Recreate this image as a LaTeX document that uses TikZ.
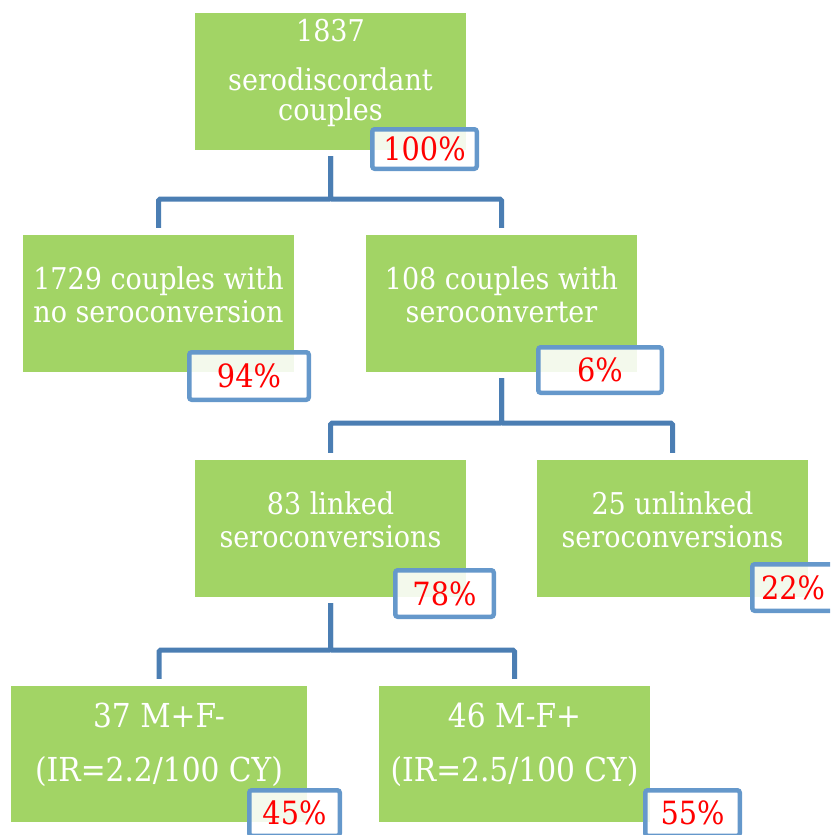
\documentclass[tikz,border=0pt]{standalone}
\usepackage{fontspec}
\setmainfont[FakeStretch=0.9]{DejaVu Serif}
\definecolor{boxgreen}{HTML}{A2D465}
\definecolor{linkblue}{HTML}{4B7EB3}
\definecolor{pctblue}{HTML}{6598CB}
\begin{document}
\begin{tikzpicture}[x=1pt,y=-1pt,
  gbox/.style={fill=boxgreen, draw=none, minimum width=271pt, minimum height=137pt, inner sep=0pt},
  txt/.style={text=white, font=\fontsize{30}{34}\selectfont, align=center, inner sep=0pt},
  bigtxt/.style={txt, font=\fontsize{33}{34}\selectfont},
  pct/.style={draw=pctblue, line width=4.5pt, fill=white, fill opacity=0.88, text opacity=1,
    rounded corners=2.5pt, text=red, font=\fontsize{32}{36}\selectfont, inner sep=0pt},
  conn/.style={draw=linkblue, line width=5pt, rounded corners=1.5pt, shorten <=6pt, shorten >=7pt}]
\useasboundingbox (0,0) rectangle (830,835);
\clip (0,0) rectangle (830,835);
% green boxes
\node[gbox] (top) at (330.5,81.5) {};
\node[gbox] (left) at (158.5,303.5) {};
\node[gbox] (right) at (501.5,303.5) {};
\node[gbox] (linked) at (330.5,528.5) {};
\node[gbox] (unlinked) at (672.5,528.5) {};
\node[gbox, minimum width=296pt, minimum height=136pt] (b37) at (159,754) {};
\node[gbox, minimum height=136pt] (b46) at (514.5,754) {};
% connectors
\draw[conn] (top.south) -- ++(0,49) -| (left.north);
\draw[conn] (top.south) -- ++(0,49) -| (right.north);
\draw[conn] (right.south) -- ++(0,51) -| (linked.north);
\draw[conn] (right.south) -- ++(0,51) -| (unlinked.north);
\draw[conn] (linked.south) -- ++(0,53) -| (b37.north);
\draw[conn] (linked.south) -- ++(0,53) -| (b46.north);
% texts
\node[txt] (ttop) at ([yshift=9pt]top.center) {1837\\[15pt]serodiscordant\\[-4pt]couples};
\node[txt] (tleft) at ([yshift=9pt]left.center) {1729 couples with\\[-1pt]no seroconversion};
\node[txt] (tright) at ([yshift=9pt]right.center) {108 couples with\\[-1pt]seroconverter};
\node[txt] (tlinked) at ([yshift=9pt]linked.center) {83 linked\\[-1pt]seroconversions};
\node[txt] (tunlinked) at ([yshift=9pt]unlinked.center) {25 unlinked\\[-1pt]seroconversions};
\node[bigtxt] (t37) at ([yshift=9pt]b37.center) {37 M+F-\\[20pt](IR=2.2/100 CY)};
\node[bigtxt] (t46) at ([yshift=9pt]b46.center) {46 M-F+\\[20pt](IR=2.5/100 CY)};
% percentage boxes
\node[pct, minimum width=104.5pt, minimum height=39.5pt] (p100) at (424.5,149) {100\%};
\node[pct, minimum width=119.5pt, minimum height=47.5pt] (p94) at (249,376) {94\%};
\node[pct, minimum width=123.5pt, minimum height=45.5pt] (p6) at (600,370) {6\%};
\node[pct, minimum width=98.5pt, minimum height=46.5pt] (p78) at (444.5,593.5) {78\%};
\node[pct, minimum width=81.5pt, minimum height=46.5pt] (p22) at (793,587.5) {22\%};
\node[pct, minimum width=90.5pt, minimum height=45.5pt] (p45) at (294.5,813) {45\%};
\node[pct, minimum width=94.5pt, minimum height=45.5pt] (p55) at (692.5,813) {55\%};
\end{tikzpicture}
\end{document}
